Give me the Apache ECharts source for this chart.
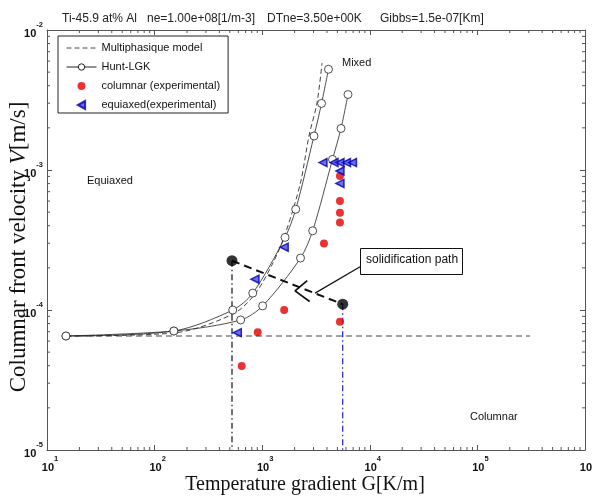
<!DOCTYPE html>
<html><head><meta charset="utf-8">
<script src="https://cdn.jsdelivr.net/npm/echarts@6/dist/echarts.min.js"></script>
<style>html,body{margin:0;padding:0;background:#fff}#c{width:592px;height:496px}</style>
</head><body><div id="c"></div>
<script>
// ---- data ----
const multiG = [15, 151, 536, 857, 1233, 1560, 1930, 2300, 2720, 3230, 3600];
const multiV = [6.52e-5, 6.85e-5, 9.36e-5, 1.30e-4, 2.10e-4, 3.16e-4, 5.18e-4, 8.48e-4, 1.75e-3, 3.01e-3, 5.81e-3];
const huntAG = [15, 151, 532, 817, 1630, 2050, 3030, 3560, 4130];
const huntAV = [6.52e-5, 7.08e-5, 1.0e-4, 1.32e-4, 3.30e-4, 5.24e-4, 1.75e-3, 2.99e-3, 5.24e-3];
const huntBG = [15, 151, 631, 1010, 2270, 2945, 4500, 5400, 6270];
const huntBV = [6.52e-5, 7.08e-5, 8.49e-5, 1.07e-4, 2.35e-4, 3.68e-4, 1.19e-3, 1.98e-3, 3.46e-3];
const colG = [645, 908, 1600, 3750, 5280, 5280, 5280, 5280, 5280];
const colV = [3.98e-5, 6.94e-5, 1.0e-4, 2.99e-4, 8.24e-5, 4.21e-4, 4.96e-4, 6.01e-4, 9.06e-4];
const eqG = [587, 857, 1600, 3670, 4650, 5280, 6070, 6900, 5280, 5280];
const eqV = [6.89e-5, 1.66e-4, 2.81e-4, 1.13e-3, 1.13e-3, 1.13e-3, 1.13e-3, 1.13e-3, 9.84e-4, 8.02e-4];
const pathG = [524, 5600];
const pathV = [2.25e-4, 1.10e-4];
const baseG = [15, 3.08e5];
const baseV = [6.52e-5, 6.52e-5];
const arrowG = [2620, 2020, 2760];
const arrowV = [1.62e-4, 1.37e-4, 1.15e-4];
const pointerG = [3100, 8280];
const pointerV = [1.32e-4, 2.05e-4];
const xMin = 10, xMax = 1e6, yMin = 1e-5, yMax = 1e-2;
const titleTexts = ['Ti-45.9 at% Al', 'ne=1.00e+08[1/m-3]', 'DTne=3.50e+00K', 'Gibbs=1.5e-07[Km]'];

const zip = (a, b) => a.map((v, i) => [v, b[i]]);
const minorX = [], minorY = [];
for (let d = 1; d < 6; d++) for (let m = 2; m < 10; m++) minorX.push(m * Math.pow(10, d));
for (let d = -5; d < -2; d++) for (let m = 2; m < 10; m++) minorY.push(m * Math.pow(10, d));
const tickData = [];
minorX.forEach(v => { tickData.push([v, yMin, 0]); tickData.push([v, yMax, 1]); });
minorY.forEach(v => { tickData.push([xMin, v, 2]); tickData.push([xMax, v, 3]); });

const fmt = v => '{b|10}{s|' + Math.round(Math.log10(v)) + '}';
const labRich = {
  b: { fontFamily: 'Liberation Sans', fontSize: 11, fontWeight: 'bold', color: '#111', lineHeight: 18, verticalAlign: 'bottom' },
  s: { fontFamily: 'Liberation Sans', fontSize: 7.5, fontWeight: 'bold', color: '#111', lineHeight: 18, verticalAlign: 'top' }
};
const axLine = { show: true, lineStyle: { color: '#555', width: 1 } };
const axTick = { show: true, inside: true, length: 5, lineStyle: { color: '#555' } };

const chart = echarts.init(document.getElementById('c'));
chart.setOption({
  animation: false,
  backgroundColor: '#fff',
  grid: { left: 47, right: 7, top: 30, bottom: 46, containLabel: false, outerBoundsMode: 'none' },
  xAxis: [
    { type: 'log', logBase: 10, min: xMin, max: xMax, position: 'bottom',
      axisLine: axLine, axisTick: axTick, splitLine: { show: false },
      axisLabel: { formatter: fmt, rich: labRich, margin: 5, showMinLabel: true, showMaxLabel: true, padding: [0, 0, 0, 6] },
      name: 'Temperature gradient G[K/m]', nameLocation: 'middle', nameGap: 25, nameMoveOverlap: false,
      nameTextStyle: { fontFamily: 'Liberation Serif', fontSize: 20, color: '#111', padding: [0, 22, 0, 0] } },
    { type: 'log', logBase: 10, min: xMin, max: xMax, position: 'top',
      axisLine: axLine, axisTick: axTick, splitLine: { show: false }, axisLabel: { show: false } }
  ],
  yAxis: [
    { type: 'log', logBase: 10, min: yMin, max: yMax, position: 'left',
      axisLine: axLine, axisTick: axTick, splitLine: { show: false },
      axisLabel: { formatter: fmt, rich: labRich, margin: 4, showMinLabel: true, showMaxLabel: true },
      name: '{n|Columnar front velocity }{i|V}{n|[m/s]}', nameLocation: 'middle', nameGap: 17, nameRotate: 90,
      nameMoveOverlap: false,
      nameTextStyle: { padding: [0, 14, 0, 0], rich: {
        n: { fontFamily: 'Liberation Serif', fontSize: 23, color: '#111' },
        i: { fontFamily: 'Liberation Serif', fontSize: 23, fontStyle: 'italic', color: '#111' } } } },
    { type: 'log', logBase: 10, min: yMin, max: yMax, position: 'right',
      axisLine: axLine, axisTick: axTick, splitLine: { show: false }, axisLabel: { show: false } }
  ],
  legend: {
    left: 58, top: 36, orient: 'vertical',
    data: [
      { name: 'Multiphasique model', itemStyle: { opacity: 0 }, lineStyle: { width: 1 } },
      { name: 'Hunt-LGK', itemStyle: { color: '#fff', borderColor: '#222', borderWidth: 1 }, lineStyle: { width: 1 } },
      { name: 'columnar (experimental)' },
      { name: 'equiaxed(experimental)', icon: 'path://M10,0 L0,5.5 L10,11 Z' }
    ],
    symbolKeepAspect: true,
    itemWidth: 30, itemHeight: 8, itemGap: 5, padding: [5, 8, 1, 8],
    borderColor: '#222', borderWidth: 1, backgroundColor: '#fff', borderRadius: 0,
    textStyle: { fontFamily: 'Liberation Sans', fontSize: 11, color: '#111', lineHeight: 14 }
  },
  graphic: [
    { type: 'text', left: 62, top: 13, style: { text: titleTexts[0], font: '12px "Liberation Sans"', fill: '#222' } },
    { type: 'text', left: 147, top: 13, style: { text: titleTexts[1], font: '12px "Liberation Sans"', fill: '#222' } },
    { type: 'text', left: 267, top: 13, style: { text: titleTexts[2], font: '12px "Liberation Sans"', fill: '#222' } },
    { type: 'text', left: 380, top: 13, style: { text: titleTexts[3], font: '12px "Liberation Sans"', fill: '#222' } },
    { type: 'text', left: 342, top: 57, style: { text: 'Mixed', font: '11px "Liberation Sans"', fill: '#111' } },
    { type: 'text', left: 87, top: 175, style: { text: 'Equiaxed', font: '11px "Liberation Sans"', fill: '#111' } },
    { type: 'text', left: 470, top: 411, style: { text: 'Columnar', font: '11px "Liberation Sans"', fill: '#111' } },
    { type: 'rect', left: 360, top: 248, shape: { width: 102, height: 26 }, style: { fill: '#fff', stroke: '#111', lineWidth: 1 }, z: 100 },
    { type: 'text', left: 366, top: 254, style: { text: 'solidification path', font: '12px "Liberation Sans"', fill: '#111' }, z: 101 }
  ],
  series: [
    { name: 'Multiphasique model', type: 'line', data: zip(multiG, multiV), symbol: 'none', smooth: 0.3,
      lineStyle: { color: '#444', width: 1, type: [5, 3] }, itemStyle: { color: '#444' }, z: 2 },
    { name: 'Hunt-LGK', type: 'line', data: zip(huntAG, huntAV), symbol: 'circle', symbolSize: 8, smooth: 0.3,
      lineStyle: { color: '#222', width: 0.8 }, itemStyle: { color: '#fff', borderColor: '#222', borderWidth: 0.8 }, z: 3 },
    { name: 'Hunt-LGK', type: 'line', data: zip(huntBG, huntBV), symbol: 'circle', symbolSize: 8, smooth: 0.3,
      lineStyle: { color: '#222', width: 0.8 }, itemStyle: { color: '#fff', borderColor: '#222', borderWidth: 0.8 }, z: 3 },
    { type: 'line', data: zip(baseG, baseV), symbol: 'none', lineStyle: { color: '#444', width: 1, type: [6, 4] }, z: 1 },
    { type: 'line', data: [[pathG[0], pathV[0]], [pathG[0], yMin]], symbol: 'none', lineStyle: { color: '#111', width: 1.2, type: [6, 3, 1.5, 3] }, z: 1 },
    { type: 'line', data: [[pathG[1], pathV[1]], [pathG[1], yMin]], symbol: 'none', lineStyle: { color: '#1a1acc', width: 1.2, type: [6, 3, 1.5, 3] }, z: 1 },
    { type: 'line', data: zip(pathG, pathV), symbol: 'none', lineStyle: { color: '#111', width: 2, type: [8, 5] }, z: 4 },
    { type: 'line', data: zip(arrowG, arrowV), symbol: 'none', lineStyle: { color: '#111', width: 1.8 }, z: 4 },
    { type: 'line', data: zip(pointerG, pointerV), symbol: 'none', lineStyle: { color: '#111', width: 1.2 }, z: 4 },
    { type: 'scatter', data: zip(pathG, pathV), symbol: 'circle', symbolSize: 11, itemStyle: { color: '#000' }, z: 6 },
    { name: 'columnar (experimental)', type: 'scatter', data: zip(colG, colV), symbol: 'circle', symbolSize: 8,
      itemStyle: { color: '#e30000' }, z: 5 },
    { name: 'equiaxed(experimental)', type: 'scatter', data: zip(eqG, eqV), symbol: 'triangle', symbolRotate: 90, symbolSize: 8,
      symbolKeepAspect: true,
      itemStyle: { color: '#4a4ae0', borderColor: '#0000b0', borderWidth: 1.5 }, z: 5 },
    { type: 'custom', data: tickData, silent: true, z: 10,
      renderItem: function (params, api) {
        const p = api.coord([api.value(0), api.value(1)]);
        const side = api.value(2);
        let dx = 0, dy = 0;
        if (side === 0) dy = -3; else if (side === 1) dy = 3; else if (side === 2) dx = 3; else dx = -3;
        return { type: 'line', shape: { x1: p[0], y1: p[1], x2: p[0] + dx, y2: p[1] + dy },
                 style: { stroke: '#555', lineWidth: 1 } };
      } }
  ]
});
</script></body></html>
